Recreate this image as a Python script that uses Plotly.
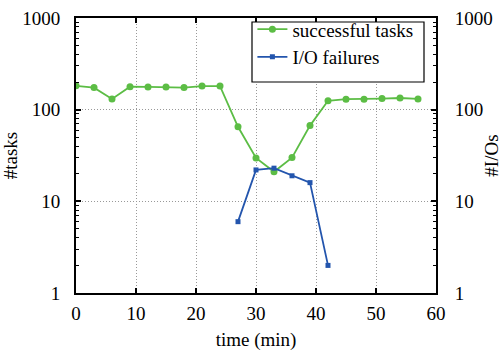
import plotly.graph_objects as go

time_tasks = [0, 3, 6, 9, 12, 15, 18, 21, 24, 27, 30, 33, 36, 39, 42, 45, 48, 51, 54, 57]
successful_tasks = [182, 174, 131, 178, 177, 177, 174, 181, 181, 65, 29.7, 21, 30, 67, 125, 130, 130, 132, 134, 131]

time_io = [27, 30, 33, 36, 39, 42]
io_failures = [6.0, 22, 23, 19, 16, 2]

x_ticks = [0, 10, 20, 30, 40, 50, 60]
y_tickvals = [1, 10, 100, 1000]
y_ticktext = ["1", "10", "100", "1000"]
y_minor = [m * d for d in (1, 10, 100) for m in range(2, 10)]

GREEN = "#5cbd45"
BLUE = "#2355ad"
FONT = "Liberation Serif, Times New Roman, DejaVu Serif, serif"
FS = 19

fig = go.Figure()
fig.add_trace(go.Scatter(
    x=time_tasks, y=successful_tasks, name="successful tasks",
    mode="lines+markers",
    line=dict(color=GREEN, width=1.8),
    marker=dict(symbol="circle", size=7, color=GREEN),
))
fig.add_trace(go.Scatter(
    x=time_io, y=io_failures, name="I/O failures",
    mode="lines+markers", yaxis="y2",
    line=dict(color=BLUE, width=1.8),
    marker=dict(symbol="square", size=5, color=BLUE),
))

grid = dict(showgrid=True, gridcolor="#999999", gridwidth=1, griddash="1px,2px")
minor = dict(ticks="inside", ticklen=3, tickcolor="black", tickwidth=1,
             tickvals=y_minor, showgrid=False)

fig.update_layout(
    width=502, height=360,
    margin=dict(l=76, r=66, t=18, b=67, autoexpand=False),
    paper_bgcolor="white", plot_bgcolor="white",
    font=dict(family=FONT, size=FS, color="black"),
    showlegend=True,
    legend=dict(
        x=0.49, y=1.028, xanchor="left", yanchor="top",
        bgcolor="rgba(0,0,0,0)", borderwidth=0,
        font=dict(family=FONT, size=FS),
        tracegroupgap=0, itemwidth=30,
    ),
    xaxis=dict(
        range=[0, 60], tickvals=x_ticks, ticks="inside", ticklen=5,
        tickcolor="black", tickwidth=1.5,
        showline=True, linecolor="black", linewidth=2, mirror="ticks",
        zeroline=False, automargin=False,
        title=dict(text="time (min)", standoff=10, font=dict(size=FS)),
        ticklabelstandoff=2,
        **grid,
    ),
    yaxis=dict(
        type="log", range=[0, 3], tickvals=y_tickvals, ticktext=y_ticktext,
        ticks="inside", ticklen=5, tickcolor="black", tickwidth=1.5,
        minor=minor,
        showline=True, linecolor="black", linewidth=2,
        zeroline=False, ticklabelstandoff=10, automargin=False,
        title=dict(text="#tasks", standoff=10, font=dict(size=FS)),
        **grid,
    ),
    yaxis2=dict(
        type="log", range=[0, 3], tickvals=y_tickvals, ticktext=y_ticktext,
        overlaying="y", side="right",
        ticks="inside", ticklen=5, tickcolor="black", tickwidth=1.5,
        minor=minor,
        showline=True, linecolor="black", linewidth=2,
        showgrid=False, zeroline=False, ticklabelstandoff=13, automargin=False,
        title=dict(text="#I/Os", standoff=8, font=dict(size=FS)),
    ),
    shapes=[dict(
        type="rect", xref="paper", yref="paper",
        x0=(252 - 76) / 360, x1=(424 - 76) / 360,
        y0=(293 - 82) / 275, y1=(293 - 22) / 275,
        fillcolor="white", line=dict(color="black", width=1.2), layer="above",
    )],
)

fig.write_html("out.html")
